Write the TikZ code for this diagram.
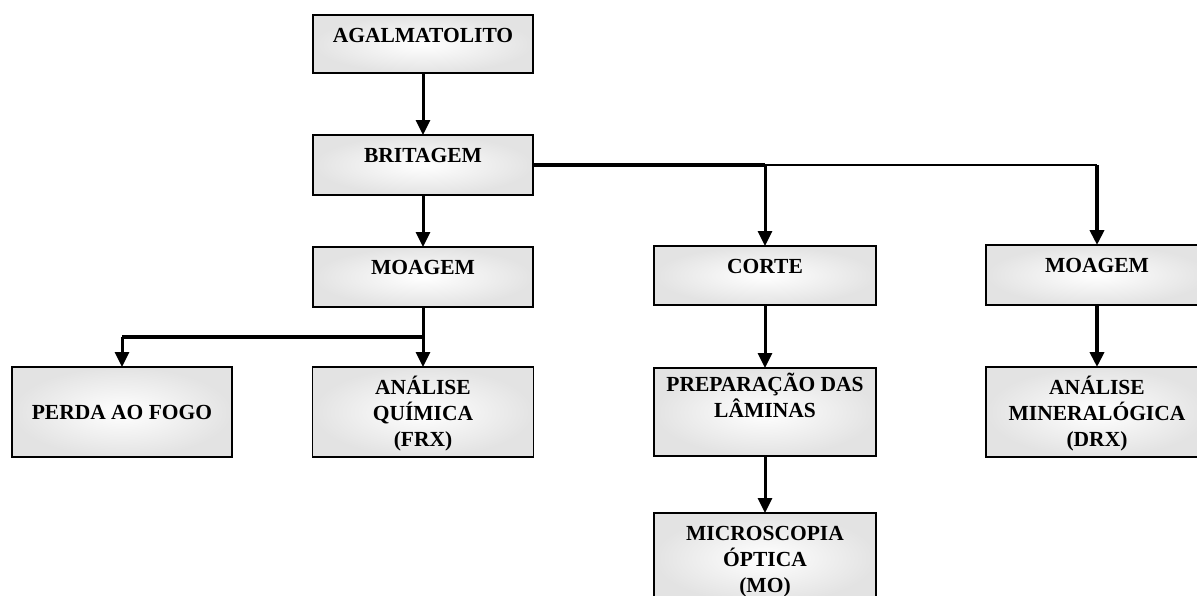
\documentclass[tikz,border=0pt]{standalone}
\usepackage{fontspec}
\setmainfont{Liberation Serif}
\usetikzlibrary{arrows.meta}
\newcommand\bxtext[4]{\parbox[c][#1][t]{#2}{\centering\rule{0pt}{#3}#4}}
\tikzset{
  stagebox/.style={draw=black, line width=1.6pt, inner sep=0pt, outer sep=0pt,
    inner color=white, outer color=black!11, rectangle,
    font=\fontsize{21.5}{26}\selectfont\bfseries},
  flowarrow/.style={draw=black, line width=3pt, -{Triangle[width=14pt,length=15pt]}},
  heavyarrow/.style={draw=black, line width=4pt, -{Triangle[width=14pt,length=15pt]}},
  heavyline/.style={draw=black, line width=4.5pt},
  plainline/.style={draw=black, line width=3pt},
  thinline/.style={draw=black, line width=2pt},
}
\begin{document}
\begin{tikzpicture}[x=1pt,y=-1pt]
\useasboundingbox (0,0) rectangle (1197,595);
\clip (0,0) rectangle (1197,595);
\node[stagebox] (agal) at (423,44) {\bxtext{58pt}{220pt}{27pt}{AGALMATOLITO}};
\node[stagebox] (brit) at (423,165) {\bxtext{60pt}{220pt}{27pt}{BRITAGEM}};
\node[stagebox] (moa1) at (423,277) {\bxtext{60pt}{220pt}{27pt}{MOAGEM}};
\node[stagebox] (perda) at (122,412) {\parbox[c][90pt][c]{220pt}{\centering PERDA AO FOGO}};
\node[stagebox] (quim) at (423,412) {\bxtext{90pt}{221pt}{27pt}{ANÁLISE\\ QUÍMICA\\ (FRX)}};
\node[stagebox] (corte) at (765,275.5) {\bxtext{59pt}{222pt}{27pt}{CORTE}};
\node[stagebox] (prep) at (765,412) {\bxtext{88pt}{222pt}{23pt}{PREPARAÇÃO DAS\\ LÂMINAS}};
\node[stagebox] (micro) at (765,558) {\bxtext{90pt}{222pt}{27pt}{MICROSCOPIA\\ ÓPTICA\\ (MO)}};
\node[stagebox] (moa2) at (1097,275) {\bxtext{60pt}{222pt}{27pt}{MOAGEM}};
\node[stagebox] (miner) at (1097,412) {\bxtext{90pt}{222pt}{27pt}{ANÁLISE\\ MINERALÓGICA\\ (DRX)}};
\coordinate (split) at (423,337);
% connectors
\draw[flowarrow] (agal.south) -- (brit.north);
\draw[flowarrow] (brit.south) -- (moa1.north);
\draw[plainline] (moa1.south) -- (split);
\draw[heavyline] (split) -- (split -| perda.north);
\draw[flowarrow] (split -| perda.north) -- (perda.north);
\draw[flowarrow] (split) -- (quim.north);
\draw[heavyline] (brit.east) -- (brit.east -| corte.north);
\draw[flowarrow] (brit.east -| corte.north) -- (corte.north);
\draw[thinline] (brit.east -| corte.north) -- (brit.east -| moa2.north);
\draw[heavyarrow] (brit.east -| moa2.north) -- (moa2.north);
\draw[flowarrow] (corte.south) -- (prep.north);
\draw[flowarrow] (prep.south) -- (micro.north);
\draw[heavyarrow] (moa2.south) -- (miner.north);
\end{tikzpicture}
\end{document}
